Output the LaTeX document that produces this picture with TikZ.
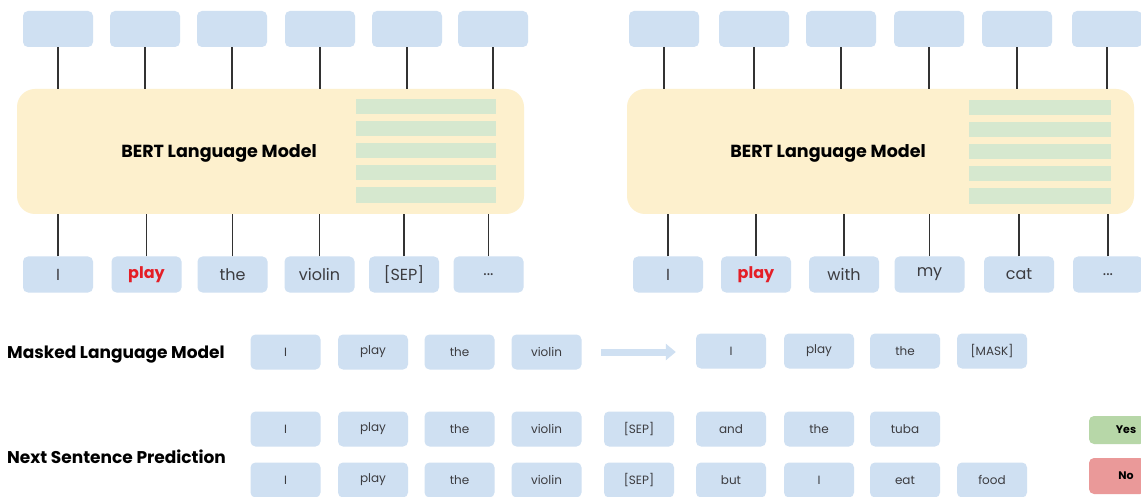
\documentclass[tikz,border=0pt]{standalone}
\usepackage{fontspec}
\setmainfont{Poppins}
\usetikzlibrary{arrows.meta}
\definecolor{tokblue}{RGB}{207,224,242}
\definecolor{bertyellow}{RGB}{253,240,205}
\definecolor{stripegreen}{RGB}{214,232,207}
\definecolor{yesgreen}{RGB}{183,215,168}
\definecolor{nored}{RGB}{234,153,153}
\definecolor{txtgray}{RGB}{60,60,64}
\definecolor{playred}{RGB}{228,30,38}
\definecolor{linegray}{RGB}{50,50,50}
\tikzset{
  tokbig/.style={fill=tokblue, rounded corners=5pt, minimum width=70pt, minimum height=36pt, inner sep=0pt, text=txtgray, font=\fontsize{16}{16}\selectfont},
  toksmall/.style={fill=tokblue, rounded corners=5pt, minimum width=70pt, minimum height=35pt, inner sep=0pt, text=txtgray, font=\fontsize{12}{12}\selectfont},
  bertbox/.style={fill=bertyellow, rounded corners=18pt, inner sep=0pt},
  conn/.style={draw=linegray, line width=1.3pt},
  lbl/.style={font=\bfseries\fontsize{17}{17}\selectfont, text=black, anchor=west, inner sep=0pt},
  title/.style={font=\bfseries\fontsize{17.5}{17.5}\selectfont, text=black},
  ans/.style={rounded corners=5pt, minimum width=56pt, inner sep=0pt, font=\bfseries\fontsize{11}{11}\selectfont, text=black},
  fatarrow/.style={draw=tokblue, line width=7pt, -{Triangle[width=16pt,length=10pt]}}
}
\begin{document}
\begin{tikzpicture}[x=1pt,y=-1pt]
\useasboundingbox (0,0) rectangle (1141,497);
\fill[white] (0,0) rectangle (1141,497);
% ---------- left panel ----------
\node[bertbox, minimum width=507pt, minimum height=125pt] (Y1) at (270.5,151.5) {};
\foreach \a/\b in {99/114,121/136,143/158,165/180,187/203}
  \fill[stripegreen] (356,\a) rectangle (496,\b);
\node[title] (T1) at (219,153) {BERT Language Model};
\foreach \i/\x in {1/58,2/145,3/232,4/320,5/407,6/493}{
  \node[tokbig] (lt\i) at (\x,29) {};
  \draw[conn] (lt\i.south) -- (lt\i.south |- Y1.north);
}
\node[tokbig] (lb1) at (58,274.5) {I};
\node[tokbig, text=playred, font=\bfseries\fontsize{16}{16}\selectfont] (lb2) at (146.5,274.5) {play};
\node[tokbig] (lb3) at (232.5,274.5) {the};
\node[tokbig] (lb4) at (319.5,274.5) {violin};
\node[tokbig] (lb5) at (404,274.5) {[SEP]};
\node[tokbig] (lb6) at (488.5,274.5) {...};
\foreach \i in {1,...,6}
  \draw[conn] (lb\i.north) -- (lb\i.north |- Y1.south);
% ---------- right panel ----------
\node[bertbox, minimum width=507pt, minimum height=125pt] (Y2) at (880.5,151.5) {};
\foreach \a/\b in {100/115,122/137,144/159,166/181,188/204}
  \fill[stripegreen] (969,\a) rectangle (1111,\b);
\node[title] (T2) at (828,153) {BERT Language Model};
\foreach \i/\x in {1/664,2/754,3/841,4/929,5/1017,6/1107}{
  \node[tokbig] (rt\i) at (\x,29) {};
  \draw[conn] (rt\i.south) -- (rt\i.south |- Y2.north);
}
\node[tokbig] (rb1) at (668,274.5) {I};
\node[tokbig, text=playred, font=\bfseries\fontsize{16}{16}\selectfont] (rb2) at (756,274.5) {play};
\node[tokbig] (rb3) at (844,274.5) {with};
\node[tokbig] (rb4) at (929.5,274.5) {my};
\node[tokbig] (rb5) at (1019,274.5) {cat};
\node[tokbig] (rb6) at (1108,274.5) {...};
\foreach \i in {1,...,6}
  \draw[conn] (rb\i.north) -- (rb\i.north |- Y2.south);
% ---------- Masked Language Model ----------
\node[lbl] (mlm) at (7,355) {Masked Language Model};
\foreach \i/\x/\w in {1/285.5/I,2/373/play,3/459.5/the,4/546.5/violin}
  \node[toksmall] (ma\i) at (\x,352) {\w};
\foreach \i/\x/\w in {1/731/I,2/819/play,3/905/the,4/992/[MASK]}
  \node[toksmall] (mb\i) at (\x,351) {\w};
\draw[fatarrow, shorten <=19.5pt, shorten >=20pt] (ma4.east) -- (mb1.west |- ma4.east);
% ---------- Next Sentence Prediction ----------
\node[lbl] (nsp) at (7,457) {Next Sentence Prediction};
\foreach \i/\x/\w in {1/285.5/I,2/373/play,3/459.5/the,4/546.5/violin,5/639/[SEP],6/731/and,7/819/the,8/905/tuba}
  \node[toksmall] (na\i) at (\x,429) {\w};
\foreach \i/\x/\w in {1/285.5/I,2/373/play,3/459.5/the,4/546.5/violin,5/639/[SEP],6/731/but,7/819/I,8/905/eat,9/992/food}
  \node[toksmall] (nb\i) at (\x,480) {\w};
\node[ans, fill=yesgreen, minimum height=28pt] (yes) at (1117,430) {\hspace*{18pt}Yes};
\node[ans, fill=nored, minimum height=36pt] (no) at (1117,476) {\hspace*{18pt}No};
\end{tikzpicture}
\end{document}
